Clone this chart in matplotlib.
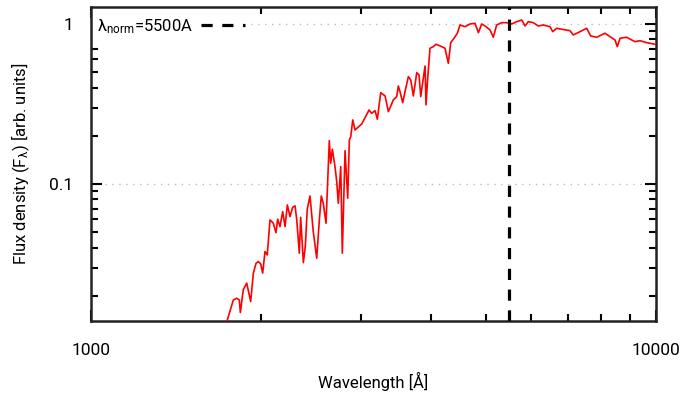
import matplotlib
matplotlib.use('Agg')
import matplotlib.pyplot as plt
from matplotlib.ticker import LogLocator, NullFormatter, FixedLocator, FixedFormatter

plt.rcParams['font.family'] = ['Roboto', 'DejaVu Sans']
plt.rcParams['mathtext.fontset'] = 'custom'
plt.rcParams['mathtext.rm'] = 'Roboto'
plt.rcParams['mathtext.it'] = 'Roboto'
plt.rcParams['mathtext.bf'] = 'Roboto'

# normalised spectrum, wavelength in Angstrom
wave = [1720, 1750, 1786, 1811, 1830, 1838, 1860, 1886, 1917, 1938, 1959, 1978,
        1997, 2013, 2032, 2051, 2074, 2102, 2125, 2140, 2160, 2184, 2205, 2226,
        2250, 2275, 2297, 2313, 2337, 2350, 2376, 2395, 2414, 2441, 2474, 2509,
        2536, 2556, 2577, 2606, 2641, 2656, 2674, 2703, 2722, 2740, 2767, 2785,
        2816, 2847, 2866, 2882, 2906, 2933, 3014, 3067, 3105, 3139, 3182, 3212,
        3257, 3315, 3360, 3428, 3476, 3499, 3523, 3562, 3596, 3645, 3681, 3720,
        3772, 3807, 3834, 3866, 3902, 3917, 3938, 3981, 4035, 4080, 4176, 4232,
        4290, 4332, 4391, 4450, 4500, 4592, 4687, 4783, 4849, 4916, 5003, 5085,
        5153, 5224, 5333, 5443, 5555, 5670, 5786, 5865, 5943, 6065, 6190, 6317,
        6492, 6565, 6672, 6810, 7044, 7139, 7337, 7540, 7664, 7852, 8124, 8292,
        8462, 8542, 8637, 8874, 9179, 9369, 9627, 9919, 10000]
flux = [0.0120, 0.0148, 0.0188, 0.0193, 0.0188, 0.0157, 0.0218, 0.0240, 0.0184,
        0.0277, 0.0319, 0.0327, 0.0316, 0.0277, 0.0378, 0.0360, 0.0596, 0.0568,
        0.0496, 0.0602, 0.0541, 0.0671, 0.0541, 0.0739, 0.0625, 0.0715, 0.0729,
        0.0596, 0.0369, 0.0619, 0.0322, 0.0406, 0.0695, 0.0841, 0.0503, 0.0343,
        0.0596, 0.0841, 0.0757, 0.0568, 0.1865, 0.1347, 0.1647, 0.1282, 0.1034,
        0.0757, 0.1282, 0.0369, 0.1615, 0.0814, 0.1884, 0.1975, 0.2512, 0.2176,
        0.2371, 0.2661, 0.2901, 0.2766, 0.2871, 0.2537, 0.3721, 0.3548, 0.2830,
        0.3350, 0.3513, 0.4097, 0.3775, 0.3221, 0.3775, 0.4685, 0.4467, 0.3548,
        0.4962, 0.4801, 0.3513, 0.4358, 0.5463, 0.3118, 0.4259, 0.7051, 0.7216,
        0.7469, 0.7216, 0.7051, 0.5679, 0.7643, 0.8138, 0.8749, 0.9857, 0.9619,
        1.0000, 1.0100, 0.8822, 1.0000, 0.9619, 0.9173, 0.8259, 0.9857, 1.0190,
        1.0190, 1.0000, 1.0340, 1.0590, 0.9716, 1.0340, 1.0190, 0.9716, 0.9857,
        0.9619, 0.8951, 0.9400, 0.9266, 0.9082, 0.8538, 0.8951, 0.9400, 0.8414,
        0.8259, 0.8749, 0.8330, 0.7943, 0.7216, 0.8138, 0.8259, 0.7750, 0.7862,
        0.7643, 0.7499, 0.7450]

lam_norm = 5500
xticks = [1000, 10000]
yticks = [0.1, 1]
ytick_labels = ['0.1', '1']

fig = plt.figure(figsize=(6.98, 3.95), dpi=100)
ax = fig.add_axes([0.1304, 0.1873, 0.8094, 0.7950])

ax.plot(wave, flux, color='#ff0000', lw=1.2, zorder=3)
ax.axvline(lam_norm, color='black', lw=2.3, ls=(0, (3.5, 3)), zorder=4,
           label='λ$_{\\rm norm}$=5500A')

ax.set_xscale('log')
ax.set_yscale('log')
ax.set_xlim(1000, 10000)
ax.set_ylim(0.0139, 1.277)

ax.xaxis.set_major_locator(FixedLocator(xticks))
ax.xaxis.set_major_formatter(FixedFormatter([str(t) for t in xticks]))
ax.xaxis.set_minor_locator(LogLocator(base=10, subs=range(2, 10)))
ax.xaxis.set_minor_formatter(NullFormatter())
ax.yaxis.set_major_locator(FixedLocator(yticks))
ax.yaxis.set_major_formatter(FixedFormatter(ytick_labels))
ax.yaxis.set_minor_locator(LogLocator(base=10, subs=range(2, 10)))
ax.yaxis.set_minor_formatter(NullFormatter())

ax.tick_params(which='both', direction='in', top=True, right=True,
               width=1.5, colors='black', labelsize=12.5)
ax.tick_params(which='major', length=8)
ax.tick_params(which='minor', length=5)
ax.tick_params(axis='x', which='major', pad=16)
ax.tick_params(axis='y', which='major', pad=13)

ax.grid(True, axis='y', which='major', color='#bbbbbb', ls=(0, (1, 4)), lw=1)
for s in ax.spines.values():
    s.set_linewidth(1.8)
    s.set_color('#222222')

ax.set_xlabel('Wavelength [Å]', fontsize=12, labelpad=10)
ax.set_ylabel('Flux density (F$_{λ}$) [arb. units]', fontsize=12, labelpad=12)

# white key box hides the grid but stays under the ticks and border
leg = ax.legend(loc='upper left', bbox_to_anchor=(0.0, 0.987), markerfirst=False,
                fontsize=12, frameon=True, handlelength=2.6, borderaxespad=0.0,
                borderpad=0.35, handletextpad=0.5, fancybox=False)
leg.get_frame().set_edgecolor('white')
leg.get_frame().set_facecolor('white')
leg.get_frame().set_alpha(1)
leg.set_zorder(2)

fig.savefig('out.png', dpi=100)
